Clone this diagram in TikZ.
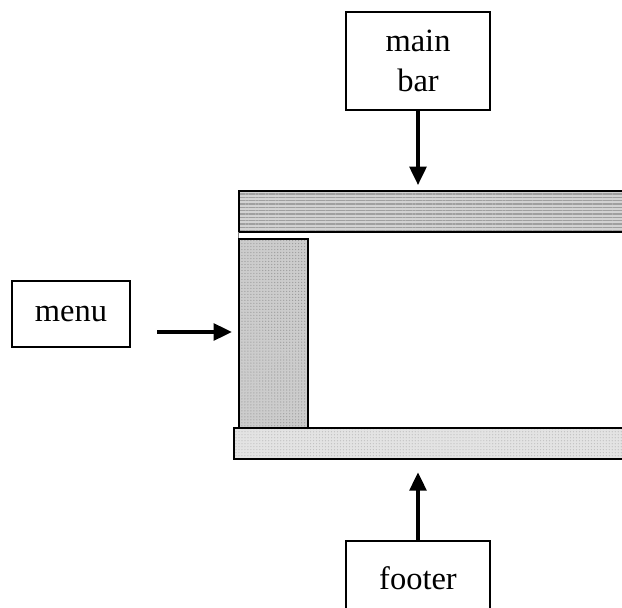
\documentclass[tikz,border=0pt]{standalone}
\usepackage{fontspec}
\setmainfont{Liberation Serif}
\usetikzlibrary{arrows.meta, positioning, patterns.meta}

\begin{document}
\begin{tikzpicture}[
        x=0.02cm, y=-0.02cm,
        label/.style={rectangle, draw=black, line width=0.6pt, fill=white, align=center, font=\fontsize{18.5}{22.5}\selectfont, inner sep=0pt},
        bar/.style={rectangle, draw=black, line width=1.1pt, anchor=north west, inner sep=0pt},
        arrow/.style={-{Triangle[length=10.5pt, width=9.5pt]}, line width=2.1pt}
    ]
    \clip (0,0) rectangle (622,608);

    % layout areas
    \node[bar, minimum width=7.8cm, minimum height=0.82cm,
          preaction={fill=gray!35},
          pattern={Lines[distance=1.9pt, line width=0.7pt]}, pattern color=gray!75] (topbar) at (238,190) {};
    \draw[gray, line width=0.5pt] (topbar.south west) -- ++(0,7);
    \node[bar, minimum width=1.38cm, minimum height=3.78cm,
          preaction={fill=gray!40},
          pattern={Dots[distance=1.7pt, radius=0.35pt]}, pattern color=gray!80] (sidebar) at (238,238) {};
    \node[bar, minimum width=7.9cm, minimum height=0.62cm,
          preaction={fill=gray!22},
          pattern={Dots[distance=1.7pt, radius=0.35pt]}, pattern color=gray!50] (footbar) at (233,427) {};

    % captions
    \node[label, minimum width=2.88cm, minimum height=1.96cm] (mainlbl) at (418,61) {main\\bar};
    \node[label, minimum width=2.36cm, minimum height=1.32cm] (menulbl) at (71,314) {menu};
    \node[label, minimum width=2.88cm, minimum height=1.48cm] (footlbl) at (418,578) {footer};

    \coordinate (menutail) at (157,332);

    \draw[arrow, shorten >=2.8pt] (mainlbl.south) -- (mainlbl.south |- topbar.north);
    \draw[arrow, shorten >=3.4pt] (menutail) -- (menutail -| sidebar.west);
    \draw[arrow, shorten >=7pt] (footlbl.north) -- (footlbl.north |- footbar.south);
\end{tikzpicture}
\end{document}
